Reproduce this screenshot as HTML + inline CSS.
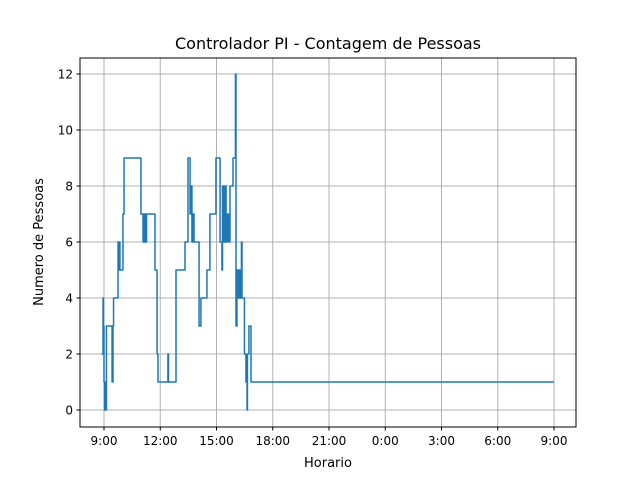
<!DOCTYPE html>
<html><head><meta charset="utf-8"><style>
body{margin:0;background:#fff;font-family:"Liberation Sans","DejaVu Sans",sans-serif}
svg text{font-family:"DejaVu Sans","Liberation Sans",sans-serif;}
</style></head><body>
<svg id="chart" width="640" height="480" xmlns="http://www.w3.org/2000/svg">
<rect width="640" height="480" fill="#fff"/>
<text x="328" y="49" text-anchor="middle" font-size="16">Controlador PI - Contagem de Pessoas</text>
<g id="grid"></g>
<g id="series"></g>
<rect x="80" y="58" width="496" height="369" fill="none" stroke="#000" stroke-width="1"/>
<g id="ticks"></g>
<text x="328" y="467" text-anchor="middle" font-size="13">Horario</text>
<text transform="translate(43,242) rotate(-90)" text-anchor="middle" font-size="13">Numero de Pessoas</text>
</svg>
<script>
const xTickLabels=["9:00","12:00","15:00","18:00","21:00","0:00","3:00","6:00","9:00"];
const yTicks=[0,2,4,6,8,10,12];
// hours since 9:00
const times=[-0.13,-0.05,-0.03,0,0.03,0.08,0.11,0.13,0.43,0.48,0.51,0.75,0.8,0.83,0.85,1.01,1.07,1.97,2.08,2.11,2.16,2.19,2.24,2.27,2.72,2.83,2.88,3.41,3.44,3.84,4.32,4.48,4.59,4.64,4.69,4.75,4.8,5.07,5.17,5.49,5.65,5.97,6.19,6.29,6.32,6.4,6.45,6.51,6.59,6.67,6.72,6.88,7.01,7.04,7.09,7.15,7.2,7.25,7.33,7.36,7.49,7.57,7.63,7.65,7.73,7.84,24];
const values=[2,4,3,1,0,1,0,3,1,3,4,6,5,6,5,7,9,7,6,7,6,7,6,7,5,2,1,2,1,5,6,9,7,8,6,7,6,3,4,5,7,9,6,5,8,6,8,6,7,6,8,9,12,3,5,4,5,4,6,4,2,1,0,2,3,1,1];
const X=h=>104+h*18.75, Y=v=>410-v*28;
const ns="http://www.w3.org/2000/svg";
const grid=document.getElementById('grid'),ticks=document.getElementById('ticks'),series=document.getElementById('series');
function mk(tag,attrs,parent){const e=document.createElementNS(ns,tag);for(const k in attrs)e.setAttribute(k,attrs[k]);parent.appendChild(e);return e;}
xTickLabels.forEach((l,i)=>{const x=X(i*3);
 const g=mk('line',{x1:x,x2:x,y1:58,y2:427,stroke:'#b0b0b0','stroke-width':1},grid);
 
 
 mk('line',{x1:x,x2:x,y1:427,y2:430.5,stroke:'#000'},ticks);
 const t=mk('text',{x:x,y:445,'text-anchor':'middle','font-size':'12'},ticks);t.textContent=l;
 
 
});
yTicks.forEach(v=>{const y=Y(v);
 const g=mk('line',{x1:80,x2:576,y1:y,y2:y,stroke:'#b0b0b0','stroke-width':1},grid);
 
 
 mk('line',{x1:76.5,x2:80,y1:y,y2:y,stroke:'#000'},ticks);
 const t=mk('text',{x:73,y:y+4.5,'text-anchor':'end','font-size':'12'},ticks);t.textContent=v;
 
 
});
let d='';
for(let i=0;i<times.length;i++){
 const x=X(times[i]).toFixed(2),y=Y(values[i]).toFixed(2);
 if(i===0)d+='M'+x+','+y;else d+='H'+x+'V'+y;
}
const p=mk('path',{d:d,fill:'none',stroke:'#1f77b4','stroke-width':1.5,'stroke-linejoin':'round'},series);


</script>
</body></html>
